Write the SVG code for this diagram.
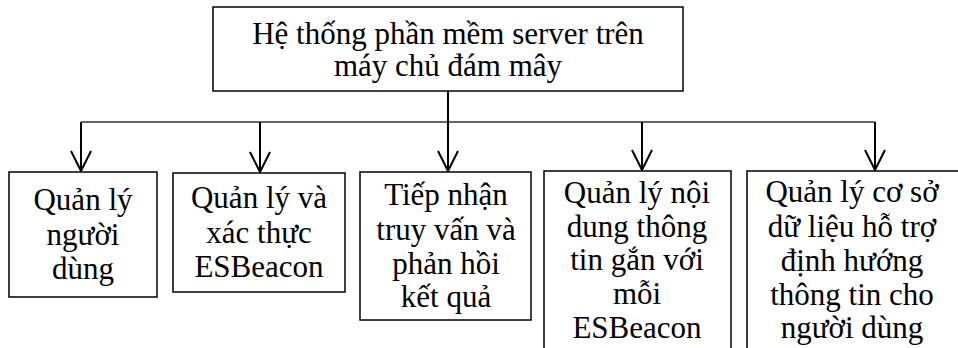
<svg xmlns="http://www.w3.org/2000/svg" width="958" height="348" viewBox="0 0 958 348">
  <style>
    .box { fill: #ffffff; stroke: #000000; stroke-width: 1.5; }
    .lbl { font-family: "Liberation Serif", "DejaVu Serif", serif; font-size: 31px; fill: #000000; text-anchor: middle; }
    .bus { fill: none; stroke: #333333; stroke-width: 1.6; }
    .drop { fill: none; stroke: #000000; stroke-width: 2; }
  </style>
  <defs>
    <!-- open chevron arrowhead, tip at the line end -->
    <marker id="chev" viewBox="0 0 24 24" markerWidth="24" markerHeight="24" refX="22" refY="12" orient="auto" markerUnits="userSpaceOnUse">
      <path d="M2 2 L22 12 L2 22" fill="none" stroke="#000000" stroke-width="2"/>
    </marker>
  </defs>

  <!-- root node -->
  <g id="root">
    <rect class="box" x="213" y="7" width="470" height="84"/>
    <text class="lbl" x="448" y="44">Hệ thống phần mềm server trên</text>
    <text class="lbl" x="448" y="76">máy chủ đám mây</text>
  </g>

  <!-- connectors -->
  <g id="connectors">
    <line class="drop" x1="448" y1="91" x2="448" y2="122"/>
    <line class="bus" x1="81" y1="122" x2="875" y2="122"/>
    <line class="drop" x1="81" y1="122" x2="81" y2="171" marker-end="url(#chev)"/>
    <line class="drop" x1="260" y1="122" x2="260" y2="172" marker-end="url(#chev)"/>
    <line class="drop" x1="448" y1="122" x2="448" y2="171" marker-end="url(#chev)"/>
    <line class="drop" x1="642" y1="122" x2="642" y2="170" marker-end="url(#chev)"/>
    <line class="drop" x1="875" y1="122" x2="875" y2="170" marker-end="url(#chev)"/>
  </g>

  <g id="n1">
    <rect class="box" x="9" y="172" width="148" height="125"/>
    <text class="lbl" x="83" y="210">Quản lý</text>
    <text class="lbl" x="83" y="245">người</text>
    <text class="lbl" x="83" y="279">dùng</text>
  </g>

  <g id="n2">
    <rect class="box" x="173" y="173" width="172" height="119"/>
    <text class="lbl" x="259" y="208">Quản lý và</text>
    <text class="lbl" x="259" y="243">xác thực</text>
    <text class="lbl" x="259" y="277">ESBeacon</text>
  </g>

  <g id="n3">
    <rect class="box" x="360" y="172" width="171" height="148"/>
    <text class="lbl" x="446" y="205">Tiếp nhận</text>
    <text class="lbl" x="446" y="240">truy vấn và</text>
    <text class="lbl" x="446" y="274">phản hồi</text>
    <text class="lbl" x="446" y="307">kết quả</text>
  </g>

  <g id="n4">
    <rect class="box" x="544" y="171" width="187" height="190"/>
    <text class="lbl" x="637" y="203">Quản lý nội</text>
    <text class="lbl" x="637" y="237">dung thông</text>
    <text class="lbl" x="637" y="270">tin gắn với</text>
    <text class="lbl" x="637" y="304">mỗi</text>
    <text class="lbl" x="637" y="338">ESBeacon</text>
  </g>

  <g id="n5">
    <rect class="box" x="747" y="171" width="220" height="190"/>
    <text class="lbl" x="852" y="202">Quản lý cơ sở</text>
    <text class="lbl" x="852" y="237">dữ liệu hỗ trợ</text>
    <text class="lbl" x="852" y="271">định hướng</text>
    <text class="lbl" x="852" y="305">thông tin cho</text>
    <text class="lbl" x="852" y="338">người dùng</text>
  </g>
</svg>
